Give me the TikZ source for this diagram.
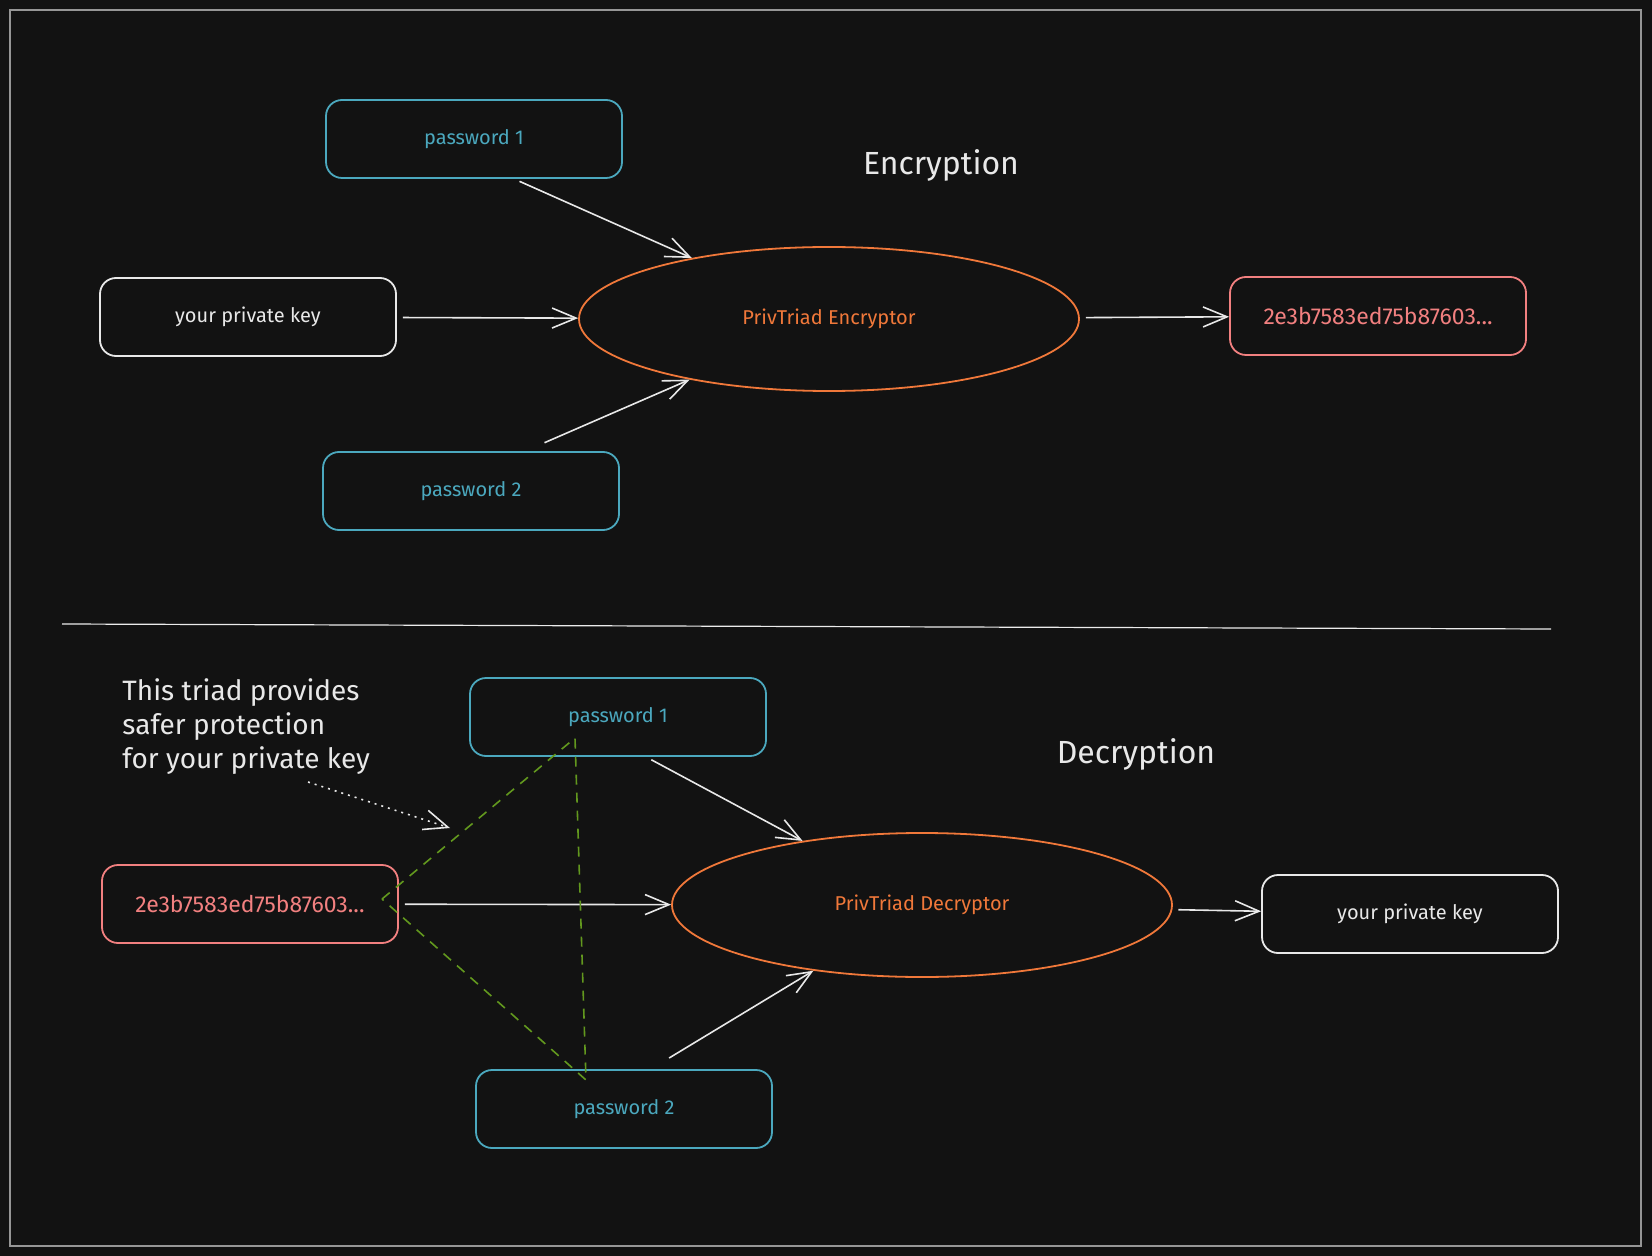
\documentclass[tikz,border=0pt]{standalone}
\usepackage{fontspec}
\setmainfont{Fira Sans}
\usepackage{xcolor}
\usetikzlibrary{arrows.meta,positioning,shapes.geometric}

\definecolor{bgc}{RGB}{18,18,18}
\definecolor{framec}{RGB}{150,150,150}
\definecolor{inkc}{RGB}{232,232,232}
\definecolor{passc}{RGB}{75,168,190}
\definecolor{hexc}{RGB}{242,128,128}
\definecolor{cryptc}{RGB}{240,120,58}
\definecolor{triadc}{RGB}{98,152,30}

\begin{document}
\begin{tikzpicture}[x=0.5pt, y=-0.5pt, thick, >={Straight Barb[length=12pt,width=10pt]}]
\tikzstyle{every node} = [font=\fontsize{10}{12}\selectfont]
\tikzstyle{box} = [draw, rounded corners=8pt, line width=0.9pt, minimum width=148pt, minimum height=39pt]
\tikzstyle{pass} = [box, draw=passc, text=passc]
\tikzstyle{key} = [box, draw=inkc, text=inkc]
\tikzstyle{hex} = [box, draw=hexc, text=hexc, font=\fontsize{11.5}{13}\selectfont]
\tikzstyle{crypt} = [ellipse, draw=cryptc, text=cryptc, line width=0.9pt, inner sep=0pt, minimum width=250pt, minimum height=72pt]
\tikzstyle{title} = [text=inkc, font=\fontsize{16}{19}\selectfont]
\tikzset{flow/.style={->, draw=inkc, line width=0.8pt, shorten <=3pt}}
\fill[bgc] (0,0) rectangle (1652,1256);
\draw[framec, line width=1pt] (10,10) rectangle (1641,1246);

% encryption
\node[pass] (p1) at (474,139) {password 1};
\node[key] (pk) at (248,317) {your private key};
\node[pass] (p2) at (471,491) {password 2};
\node[crypt] (enc) at (829,319) {PrivTriad Encryptor};
\node[hex] (hx) at (1378,316) {2e3b7583ed75b87603...};
\node[title] (et) at (941,165) {Encryption};
\draw[flow] ([xshift=20pt]p1.south) -- (enc);
\draw[flow] (pk) -- (enc);
\draw[flow] ([xshift=34pt,yshift=3pt]p2.north) -- (enc);
\draw[flow] (enc) -- (hx);

\draw[inkc!85, line width=0.6pt] (62,624) -- (1551,629);

% decryption
\node[pass] (dp1) at (618,717) {password 1};
\node[hex] (dhx) at (250,904) {2e3b7583ed75b87603...};
\node[pass] (dp2) at (624,1109) {password 2};
\node[crypt] (dec) at (922,905) {PrivTriad Decryptor};
\node[key] (dpk) at (1410,914) {your private key};
\node[title] (dt) at (1136,754) {Decryption};
\draw[flow] ([xshift=14pt]dp1.south) -- (dec);
\draw[flow] (dhx) -- (dec);
\draw[flow] ([xshift=20pt,yshift=4pt]dp2.north) -- (dec);
\draw[flow] (dec) -- (dpk);

% the triad
\coordinate (ta) at (382,899);
\coordinate (tb) at (575,738);
\coordinate (tc) at (586,1080);
\draw[triadc, line width=0.8pt, dash pattern=on 5pt off 4pt] (ta) -- (tb) -- (tc) -- cycle;
\node[text=inkc, font=\fontsize{14}{17}\selectfont, align=left, anchor=west] (note) at (115,727)
  {This triad provides\\safer protection\\for your private key};
\coordinate (nf) at (308,782);
\coordinate (nt) at (450,828);
\draw[->, inkc, line width=0.8pt, dash pattern=on 1pt off 2.5pt] (nf) -- (nt);
\end{tikzpicture}
\end{document}
